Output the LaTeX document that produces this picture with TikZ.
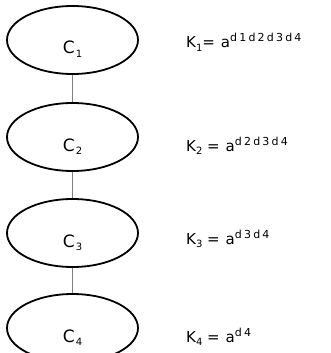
\documentclass[tikz,border=0pt]{standalone}
\usepackage{fontspec}
\setmainfont{DejaVu Sans}
\usepackage{tikz}
\usetikzlibrary{shapes.geometric}

\newcommand{\subsc}[1]{\raisebox{-3.5pt}{\fontsize{10}{12}\selectfont #1}}
\newcommand{\supsc}[1]{\raisebox{6pt}{\fontsize{11}{13}\selectfont\addfontfeature{LetterSpace=20}#1}}

\begin{document}
\begin{tikzpicture}[
    x=1pt, y=-1pt,
    cell/.style={ellipse, draw, line width=1.8pt, minimum width=131pt, minimum height=68pt, inner sep=0pt, text height=28pt, text depth=0pt, font=\fontsize{17}{20}\selectfont},
    key/.style={anchor=base west, inner sep=0pt, font=\fontsize{15}{18}\selectfont},
    link/.style={gray, line width=0.6pt}
]

% page
\fill[white] (0,0) rectangle (331,353);
\clip (0,0) rectangle (331,353);

% the four C ellipses (labels sit low and a bit left)
\node[cell] (c1) at (72.5, 40) {C\kern1pt\subsc{1}\hspace{10pt}};
\node[cell] (c2) at (72.5, 137) {C\kern1pt\subsc{2}\hspace{10pt}};
\node[cell] (c3) at (72.5, 233) {C\kern1pt\subsc{3}\hspace{10pt}};
\node[cell] (c4) at (72.5, 328) {C\kern1pt\subsc{4}\hspace{10pt}};

% links between them
\draw[link] (c1.south) -- (c2.north);
\draw[link] (c2.south) -- (c3.north);
\draw[link] (c3.south) -- (c4.north);

% keys
\node[key] (k1) at (186, 48) {K\subsc{1}=\hspace{6pt}a\supsc{d1d2d3d4}};
\node[key] (k2) at (186, 151) {K\subsc{2} =\hspace{6pt}a\supsc{d2d3d4}};
\node[key] (k3) at (186, 244) {K\subsc{3} =\hspace{6pt}a\supsc{d3d4}};
\node[key] (k4) at (186, 342) {K\subsc{4} =\hspace{6pt}a\supsc{d4}};

\end{tikzpicture}
\end{document}
